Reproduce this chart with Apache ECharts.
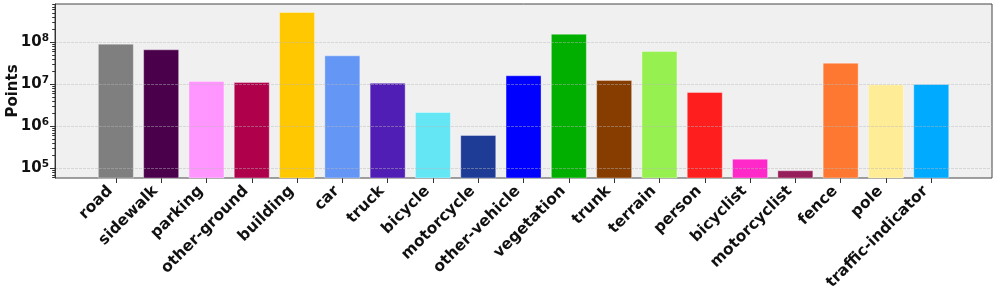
<!DOCTYPE html>
<html>
<head>
<meta charset="utf-8">
<script src="https://cdn.jsdelivr.net/npm/echarts@6/dist/echarts.min.js"></script>
<style>
html,body{margin:0;padding:0;background:#fff;}
#chart{width:996px;height:294px;}
</style>
</head>
<body>
<div id="chart"></div>
<script>
const categories = ['road','sidewalk','parking','other-ground','building','car','truck','bicycle','motorcycle','other-vehicle','vegetation','trunk','terrain','person','bicyclist','motorcyclist','fence','pole','traffic-indicator'];
const points = [9.3e7, 6.8e7, 1.2e7, 1.13e7, 5.26e8, 4.9e7, 1.09e7, 2.19e6, 6.2e5, 1.64e7, 1.6e8, 1.27e7, 6.2e7, 6.56e6, 1.69e5, 8.96e4, 3.26e7, 1.0e7, 1.02e7];
const barColors = ['#7f7f7f','#4b004b','#ff96ff','#af004b','#ffc800','#6496f5','#501eb4','#64e6f5','#1e3c96','#0000ff','#00af00','#873c00','#96f050','#ff1e1e','#ff28c8','#961e5a','#ff7832','#ffec96','#00aaff'];
const yTickValues = [1e5, 1e6, 1e7, 1e8];
const yMinorTicks = [6e4,7e4,8e4,9e4, 2e5,3e5,4e5,5e5,6e5,7e5,8e5,9e5, 2e6,3e6,4e6,5e6,6e6,7e6,8e6,9e6, 2e7,3e7,4e7,5e7,6e7,7e7,8e7,9e7, 2e8,3e8,4e8,5e8,6e8,7e8,8e8];
const yMin = 58700, yMax = 8.17e8;

const FONT = 'DejaVu Sans';
const chart = echarts.init(document.getElementById('chart'), null, {renderer: 'canvas'});

chart.setOption({
  animation: false,
  textStyle: {fontFamily: FONT},
  grid: [
    {left: 55, right: 4, top: 4, bottom: 116, show: true, backgroundColor: '#f0f0f0', borderColor: '#444', borderWidth: 1, outerBoundsMode: 'none', containLabel: false},
    {left: 93.2, right: 42.1, top: 4, bottom: 116, show: false, outerBoundsMode: 'none', containLabel: false}
  ],
  xAxis: [{
    gridIndex: 0, type: 'value', min: 0, max: 1, show: false
  }, {
    gridIndex: 1, type: 'category', data: categories,
    axisLine: {show: false},
    splitLine: {show: false},
    axisTick: {show: true, alignWithLabel: true, length: 5, lineStyle: {color: '#333'}},
    axisLabel: {
      interval: 0, rotate: 45, margin: 5, padding: [0, 8, 0, 0],
      fontFamily: FONT, fontWeight: 'bold', fontSize: 15.5, color: '#111'
    }
  }],
  yAxis: [{
    gridIndex: 0, type: 'log', logBase: 10, min: yMin, max: yMax, z: 10,
    name: 'Points', nameLocation: 'middle', nameGap: 34, nameMoveOverlap: false,
    nameTextStyle: {fontFamily: FONT, fontWeight: 'bold', fontSize: 15, color: '#111'},
    axisLine: {show: true, onZero: false, lineStyle: {color: '#333'}},
    splitLine: {show: true, lineStyle: {color: 'rgba(185,185,185,0.45)', type: [3, 1], width: 1}},
    axisTick: {show: true, customValues: yTickValues, length: 5, lineStyle: {color: '#333'}},
    axisLabel: {
      customValues: yTickValues, margin: 6,
      formatter: v => '{b|10}{s|' + Math.round(Math.log10(v)) + '}',
      rich: {
        b: {fontFamily: FONT, fontWeight: 'bold', fontSize: 15, color: '#111'},
        s: {fontFamily: FONT, fontWeight: 'bold', fontSize: 10.5, color: '#111', padding: [0, 0, 9, 0]}
      }
    }
  }, {
    gridIndex: 0, type: 'log', logBase: 10, min: yMin, max: yMax, position: 'left',
    axisLine: {show: false, onZero: false},
    axisLabel: {show: false},
    splitLine: {show: false},
    axisTick: {show: true, customValues: yMinorTicks, length: 2.8, lineStyle: {color: '#333'}}
  }, {
    gridIndex: 1, type: 'log', logBase: 10, min: yMin, max: yMax, show: false
  }],
  series: [{
    type: 'bar', xAxisIndex: 1, yAxisIndex: 2, barWidth: 36,
    data: points.map((v, i) => ({value: v, itemStyle: {color: barColors[i], borderColor: 'rgba(255,255,255,0.35)', borderWidth: 1}}))
  }]
});
</script>
</body>
</html>
